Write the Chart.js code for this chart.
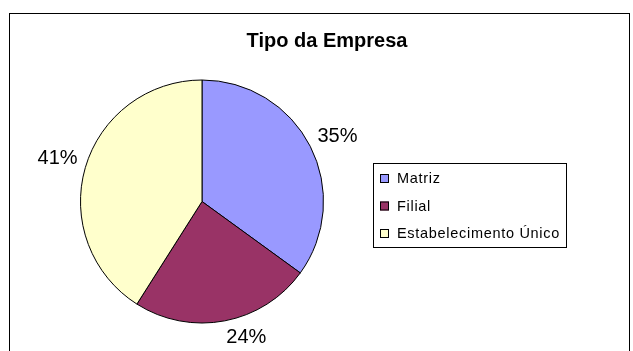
<!DOCTYPE html>
<html>
<head>
<meta charset="utf-8">
<script src="https://cdn.jsdelivr.net/npm/chart.js@4/dist/chart.umd.min.js"></script>
<style>
  html, body { margin: 0; padding: 0; background: #fff; }
  #wrap { width: 633px; height: 351px; position: relative; }
</style>
</head>
<body>
<div id="wrap"><canvas id="c" width="633" height="351"></canvas></div>
<script>
const chartTitle = 'Tipo da Empresa';
const categories = ['Matriz', 'Filial', 'Estabelecimento Único'];
const shares = [35, 24, 41];
const sliceColors = ['#9999FF', '#993366', '#FFFFCC'];

const FONT = '"Liberation Sans", Arial, sans-serif';

// Frame, title, outside percentage labels and boxed legend
const decorations = {
  id: 'decorations',
  beforeDraw(chart) {
    const ctx = chart.ctx;
    ctx.save();
    ctx.fillStyle = '#fff';
    ctx.fillRect(0, 0, chart.width, chart.height);
    ctx.strokeStyle = '#000';
    ctx.lineWidth = 1;
    ctx.strokeRect(9.5, 13.5, 620, 360);
    ctx.restore();
  },
  afterDraw(chart) {
    const ctx = chart.ctx;
    ctx.save();
    // title
    ctx.fillStyle = '#000';
    ctx.font = 'bold 20px ' + FONT;
    ctx.textAlign = 'center';
    ctx.textBaseline = 'alphabetic';
    ctx.fillText(chartTitle, 327, 47);

    // percentage labels: the label corner nearest the pie sits just outside
    // the slice's mid-angle point
    const meta = chart.getDatasetMeta(0);
    const total = shares.reduce((a, b) => a + b, 0);
    ctx.font = '20px ' + FONT;
    ctx.textBaseline = 'middle';
    meta.data.forEach((arc, i) => {
      const p = arc.getProps(['x', 'y', 'startAngle', 'endAngle', 'outerRadius'], true);
      const mid = (p.startAngle + p.endAngle) / 2;
      const txt = Math.round(shares[i] / total * 100) + '%';
      const w = ctx.measureText(txt).width;
      const h = 15;
      const r = p.outerRadius + 8;
      const ax = p.x + Math.cos(mid) * r;
      const ay = p.y + Math.sin(mid) * r;
      const cx = ax + Math.sign(Math.cos(mid)) * w / 2;
      const cy = ay + Math.sign(Math.sin(mid)) * h / 2;
      ctx.fillText(txt, cx, cy + 1);
    });

    // legend
    ctx.strokeStyle = '#000';
    ctx.lineWidth = 1;
    ctx.strokeRect(373.5, 163.5, 193, 84);
    ctx.font = '14.5px ' + FONT;
    ctx.letterSpacing = '0.7px';
    ctx.textAlign = 'left';
    ctx.textBaseline = 'alphabetic';
    const baselines = [183, 210.5, 238];
    categories.forEach((name, i) => {
      const b = baselines[i];
      ctx.fillStyle = sliceColors[i];
      ctx.fillRect(380, b - 9, 9, 9);
      ctx.strokeStyle = '#000';
      ctx.strokeRect(380.5, b - 8.5, 8, 8);
      ctx.fillStyle = '#000';
      ctx.fillText(name, 397, b);
    });
    ctx.restore();
  }
};

new Chart(document.getElementById('c'), {
  type: 'pie',
  data: {
    labels: categories,
    datasets: [{
      data: shares,
      backgroundColor: sliceColors,
      borderColor: '#000',
      borderWidth: 1
    }]
  },
  options: {
    responsive: false,
    animation: false,
    layout: { padding: { left: 80, right: 309, top: 79.5, bottom: 27.5 } },
    plugins: {
      legend: { display: false },
      title: { display: false },
      tooltip: { enabled: false }
    }
  },
  plugins: [decorations]
});
</script>
</body>
</html>
